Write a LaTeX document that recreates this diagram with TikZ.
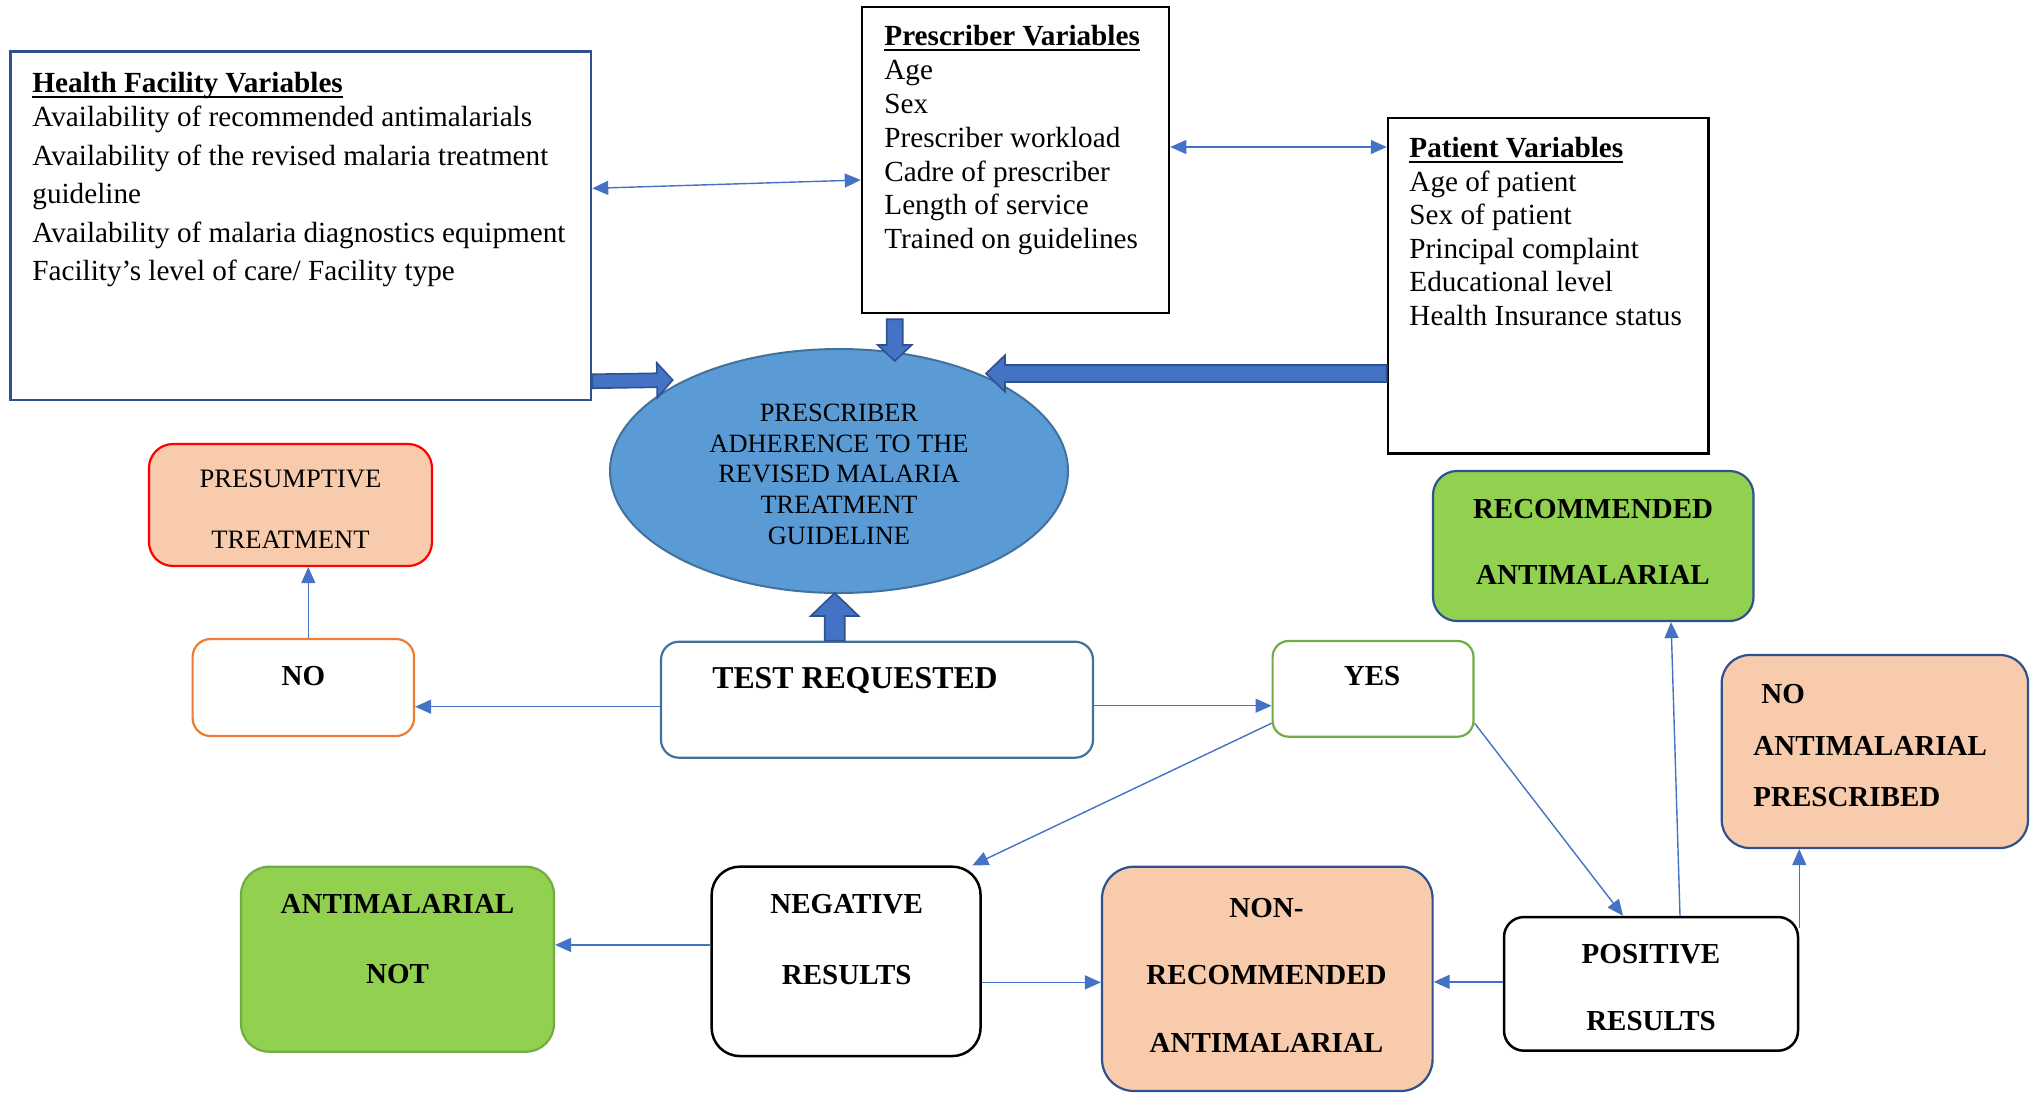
\documentclass[tikz,border=0pt]{standalone}
\usepackage{fontspec}
\setmainfont{Liberation Serif}
\usetikzlibrary{arrows.meta,shapes.geometric,calc,fit}
\definecolor{arrblue}{HTML}{4472C4}
\definecolor{darkblue}{HTML}{2F528F}
\definecolor{midblue}{HTML}{41719C}
\definecolor{ellfill}{HTML}{5B9BD5}
\definecolor{peach}{HTML}{F8CBAD}
\definecolor{lgreen}{HTML}{92D050}
\definecolor{dgreen}{HTML}{70AD47}
\definecolor{orng}{HTML}{ED7D31}
\definecolor{redb}{HTML}{FF0000}
\newcommand\myul[1]{\setbox0\hbox{#1}\rlap{\rule[-2.6pt]{\wd0}{1pt}}\box0}
\newcommand\blockarr[5]{%
 \coordinate (bah) at ($(#2)!#5!(#1)$);
 \draw[blockar] ($(#1)!#3!90:(#2)$) -- ($(bah)!#3!90:(#2)$) -- ($(bah)!#4!90:(#2)$) -- (#2) -- ($(bah)!#4!-90:(#2)$) -- ($(bah)!#3!-90:(#2)$) -- ($(#1)!#3!-90:(#2)$) -- cycle;}
\begin{document}
\begin{tikzpicture}[x=0.5pt,y=-0.5pt,
  varbox/.style={draw, line width=1.25pt, inner sep=0pt},
  rbox/.style={draw, line width=1.1pt, rounded corners=12pt, inner sep=0pt},
  conn/.style={draw=arrblue, line width=0.7pt, -{Triangle[length=8pt,width=7pt]}},
  biconn/.style={draw=arrblue, line width=0.7pt, {Triangle[length=8pt,width=7pt]}-{Triangle[length=8pt,width=7pt]}},
  blockar/.style={fill=arrblue, draw=darkblue, line width=0.8pt, line join=miter},
  vartext/.style={anchor=north west, inner sep=0pt, align=left},
  bt/.style={inner sep=0pt, align=center}]
\useasboundingbox (0,0) rectangle (2032,1093);
% variable boxes
\node[varbox, draw=darkblue, fit={(10.7,51.7) (591,400)}] (hf) {};
\node[varbox, fit={(862,7) (1169,313)}] (pv) {};
\node[varbox, fit={(1388,118) (1708.5,453.6)}] (pt) {};
% outcome boxes
\node[rbox, draw=redb, fill=peach, fit={(149,444) (432,566)}] (pres) {};
\node[rbox, draw=orng, rounded corners=9pt, fit={(192.6,639) (414,736)}] (no) {};
\node[rbox, draw=midblue, rounded corners=9pt, fit={(661,641.7) (1093,757.7)}] (test) {};
\node[rbox, draw=dgreen, rounded corners=8pt, fit={(1272.6,641) (1473.5,736.7)}] (yes) {};
\node[rbox, draw=darkblue, fill=lgreen, fit={(1433,471) (1753.5,621)}] (rec) {};
\node[rbox, draw=darkblue, fill=peach, rounded corners=14pt, fit={(1721.7,655) (2028,848)}] (noam) {};
\node[rbox, draw=dgreen, fill=lgreen, rounded corners=14pt, fit={(241,866.7) (554,1051.7)}] (an) {};
\node[rbox, draw=black, rounded corners=14pt, line width=1.25pt, fit={(711.7,866.7) (980.5,1056)}] (neg) {};
\node[rbox, draw=darkblue, fill=peach, rounded corners=16pt, fit={(1102,866.7) (1432.6,1091)}] (non) {};
\node[rbox, draw=black, rounded corners=10pt, line width=1.25pt, fit={(1504,917) (1798,1050.7)}] (pos) {};
% central ellipse
\node[ellipse, draw=midblue, fill=ellfill, line width=1pt, minimum width=229pt, minimum height=122pt, inner sep=0pt] (el) at (839,471) {};
\node[bt, anchor=north, font=\fontsize{13.2}{15.35}\selectfont] (elT) at (839,403.7) {PRESCRIBER\\ADHERENCE TO THE\\REVISED MALARIA\\TREATMENT\\GUIDELINE};
% block arrows
\coordinate (bAs) at ([yshift=10pt]hf.south east);
\coordinate (bAt) at (672.7,380);
\coordinate (bBs) at ([xshift=-60.4pt,yshift=-2.5pt]pv.south);
\coordinate (bBt) at (894.7,361);
\coordinate (bCs) at ([yshift=-43.85pt]pt.west);
\coordinate (bCt) at (986,373.5);
\coordinate (bDs) at ([xshift=-21.15pt]test.north);
\coordinate (bDt) at (834.7,593);
\blockarr{bAs}{bAt}{3.5pt}{8.75pt}{7.85pt}
\blockarr{bBs}{bBt}{4pt}{8.5pt}{8pt}
\blockarr{bCs}{bCt}{4.25pt}{9.15pt}{9.5pt}
\blockarr{bDs}{bDt}{5pt}{12pt}{11.5pt}
% thin connectors
\draw[biconn] ([yshift=18.75pt]hf.east) -- ([yshift=-10pt]pv.west);
\coordinate (c2) at ([yshift=6.5pt]pv.east);
\draw[biconn] (c2) -- (c2 -| pt.west);
\coordinate (c3) at ([yshift=-3.5pt]test.west);
\draw[conn] (c3) -- (c3 -| no.east);
\coordinate (c4) at ([yshift=-3pt]test.east);
\draw[conn] (c4) -- (c4 -| yes.west);
\coordinate (c5) at ([xshift=2.5pt]no.north);
\draw[conn] (c5) -- (c5 |- pres.south);
\draw[conn] ([yshift=-17.2pt]yes.west) -- ([xshift=-4.75pt]neg.north east);
\draw[conn] ([yshift=-17.2pt]yes.east) -- ([xshift=-14pt]pos.north);
\draw[conn] ([xshift=14.5pt]pos.north) -- ([xshift=38.9pt]rec.south);
\coordinate (c9) at ([yshift=-6pt]pos.north east);
\draw[conn] (c9) -- (c9 |- noam.south);
\coordinate (c10) at ([yshift=1pt]pos.west);
\draw[conn] (c10) -- (c10 -| non.east);
\coordinate (c11) at ([yshift=-10.5pt]neg.east);
\draw[conn] (c11) -- (c11 -| non.west);
\coordinate (c12) at ([yshift=8.2pt]neg.west);
\draw[conn] (c12) -- (c12 -| an.east);
% texts
\node[vartext, font=\fontsize{14.6}{19.25}\selectfont] (hfT) at (32,72.2) {\myul{\textbf{Health Facility Variables}}\\[-2.25pt]Availability of recommended antimalarials\\Availability of the revised malaria treatment\\guideline\\Availability of malaria diagnostics equipment\\Facility’s level of care/ Facility type};
\node[vartext, font=\fontsize{14.6}{16.9}\selectfont] (pvT) at (884,25.2) {\myul{\textbf{Prescriber Variables}}\\Age\\Sex\\Prescriber workload\\Cadre of prescriber\\Length of service\\Trained on guidelines};
\node[vartext, font=\fontsize{14.6}{16.8}\selectfont] (ptT) at (1409,136.8) {\myul{\textbf{Patient Variables}}\\Age of patient\\Sex of patient\\Principal complaint\\Educational level\\Health Insurance status};
\node[bt, anchor=north, font=\fontsize{13.3}{30.5}\selectfont] (presT) at (290.5,469.3) {PRESUMPTIVE\\TREATMENT};
\node[bt, anchor=base, font=\fontsize{14.5}{17}\selectfont\bfseries] (noT) at (303.4,685) {NO};
\node[bt, anchor=base, font=\fontsize{15.9}{18}\selectfont\bfseries] (testT) at (855,688) {TEST REQUESTED};
\node[bt, anchor=base, font=\fontsize{14.5}{17}\selectfont\bfseries] (yesT) at (1372,685.5) {YES};
\node[bt, anchor=north, font=\fontsize{14.5}{33}\selectfont\bfseries] (recT) at (1593,499) {RECOMMENDED\\ANTIMALARIAL};
\node[vartext, font=\fontsize{14.5}{25.7}\selectfont\bfseries] (noamT) at (1753,684) {\hspace*{4pt}NO\\ANTIMALARIAL\\PRESCRIBED};
\node[bt, anchor=north, font=\fontsize{14.5}{35}\selectfont\bfseries] (anT) at (397.5,894) {ANTIMALARIAL\\NOT};
\node[bt, anchor=north, font=\fontsize{14.5}{35.5}\selectfont\bfseries] (negT) at (846.7,894) {NEGATIVE\\RESULTS};
\node[bt, anchor=north, font=\fontsize{14.5}{33.75}\selectfont\bfseries] (nonT) at (1266.5,897.7) {NON-\\RECOMMENDED\\ANTIMALARIAL};
\node[bt, anchor=north, font=\fontsize{14.5}{33.5}\selectfont\bfseries] (posT) at (1651,944) {POSITIVE\\RESULTS};
\end{tikzpicture}
\end{document}
